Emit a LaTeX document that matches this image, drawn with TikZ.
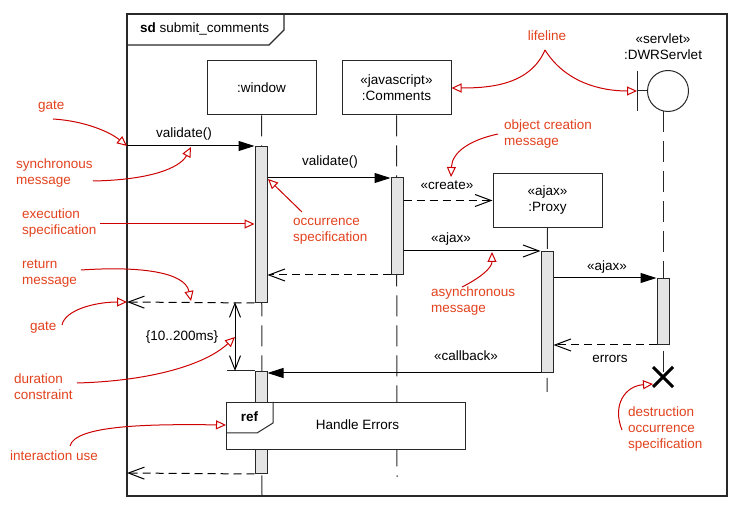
\documentclass[tikz,border=0pt]{standalone}
\usepackage{fontspec}
\setmainfont{Liberation Sans}
\usetikzlibrary{arrows.meta,calc}
\definecolor{ink}{RGB}{40,40,40}
\definecolor{annline}{RGB}{204,0,0}
\definecolor{anntext}{RGB}{226,66,30}
\definecolor{actfill}{RGB}{228,228,228}
\begin{document}
\begin{tikzpicture}[x=1pt,y=-1pt,
  font=\fontsize{13.5}{16}\selectfont,
  obj/.style={draw=ink, line width=1pt, fill=white, minimum width=109, minimum height=54, align=center, inner sep=0},
  act/.style={draw=ink, line width=1pt, fill=actfill, minimum width=12, inner sep=0, anchor=north},
  life/.style={draw=ink, line width=1pt, dash pattern=on 21pt off 9pt},
  sync/.style={draw=black, line width=1pt, -{Triangle[length=16pt,width=10pt]}},
  async/.style={draw=black, line width=1pt, -{Straight Barb[length=16pt,width=12pt,line width=1pt]}},
  ret/.style={draw=black, line width=1pt, dash pattern=on 8pt off 5pt, -{Straight Barb[length=16pt,width=12pt,line width=1pt]}},
  lbl/.style={inner sep=0, text=black},
  note/.style={inner sep=0, text=anntext, align=left, anchor=west},
  ann/.style={draw=annline, line width=1pt, -{Triangle[open,length=10pt,width=9pt,line width=1pt]}}
]
\useasboundingbox (0,0) rectangle (740,510);

% frame
\draw[ink, line width=1.5pt] (127,14) rectangle (727,496);
\draw[ink, line width=1.2pt] (127,45) -- (269,45) -- (284,30) -- (284,14);
\node[lbl, anchor=west] (title) at (140,29) {\textbf{sd} submit\_comments};

% lifeline heads
\node[obj] (win) at (261.5,88) {:window};
\node[obj] (com) at (396.5,88) {«javascript»\\:Comments};
\node[obj] (prx) at (547.5,200.5) {«ajax»\\:Proxy};
\node[draw=ink, line width=1pt, circle, minimum size=41, inner sep=0] (srv) at (668,91) {};
\coordinate (srvbar) at (637,91);
\draw[ink, line width=1pt] (637,71) -- (637,111);
\draw[ink, line width=1pt] (srvbar) -- (srv.west);
\node[lbl, align=center] (srvname) at (663,47) {«servlet»\\:DWRServlet};
\coordinate (shead) at (663,111);

% lifelines
\coordinate (wend) at (262,496);
\coordinate (cend) at (397,477);
\coordinate (pend) at (547,392);
\coordinate (xpt) at (663,377);
\draw[life] (win.south) -- (wend);
\draw[life] (com.south) -- (cend);
\draw[life] (prx.south) -- (pend);
\draw[life] (shead) -- (xpt);

% activations
\node[act, minimum height=156] (wa1) at (261,146) {};
\node[act, minimum height=97] (ca1) at (397,177) {};
\node[act, minimum height=121] (pa1) at (547,251) {};
\node[act, minimum height=66] (sa1) at (663,278) {};
\node[act, minimum height=102] (wa2) at (261,371) {};

% destruction
\draw[black, line width=3pt] ($(xpt)+(-10,-10)$) -- ($(xpt)+(10,10)$);
\draw[black, line width=3pt] ($(xpt)+(-10,10)$) -- ($(xpt)+(10,-10)$);

% gates
\coordinate (gate1) at (127,146);
\coordinate (gate2) at (127,302);
\coordinate (gate3) at (127,473);

% messages
\draw[sync] (gate1) -- (wa1.north west);
\node[lbl] (m1) at (184,134) {validate()};
\draw[sync] (ca1.north west -| wa1.east) ++(0,1) -- ($(ca1.north west)+(0,1)$);
\node[lbl] (m2) at (330,162) {validate()};
\draw[ret] (ca1.east |- prx.west) -- (prx.west);
\node[lbl] (m3) at (447,185) {«create»};
\draw[async] (ca1.east |- pa1.north) -- (pa1.north west);
\node[lbl] (m4) at (451,239) {«ajax»};
\draw[sync] (pa1.east |- sa1.north) -- (sa1.north west);
\node[lbl] (m5) at (607,267) {«ajax»};
\draw[ret] (sa1.south west) -- (sa1.south west -| pa1.east);
\node[lbl] (m6) at (610,359) {errors};
\draw[ret] (ca1.south west) -- (ca1.south west -| wa1.east);
\draw[ret] (wa1.south west) -- (gate2);
\draw[sync] (pa1.south west) -- (pa1.south west -| wa2.east);
\node[lbl] (m7) at (466,356) {«callback»};
\draw[ret] (wa2.south west) -- (gate3);

% duration constraint
\coordinate (dtop) at (235,302);
\coordinate (dbot) at (235,371);
\draw[ink, line width=1pt] (227,371) -- (wa2.north west);
\draw[black, line width=1pt, {Straight Barb[length=14pt,width=11pt,line width=1pt]}-{Straight Barb[length=14pt,width=11pt,line width=1pt]}] (dtop) -- (dbot);
\node[lbl] (dur) at (182,337) {\{10..200ms\}};

% interaction use
\node[draw=ink, line width=1pt, fill=white, minimum width=239, minimum height=47, anchor=north west, inner sep=0] (ref) at (226,402) {};
\draw[ink, line width=1pt] (273,402) -- (273,423) -- (257,433) -- (226,433);
\node[lbl] (reftag) at (249.5,417) {\textbf{ref}};
\node[lbl] (refname) at (357.5,425) {Handle Errors};

% annotations
\node[note] (n1) at (38,107) {gate};
\node[note] (n2) at (16,173) {synchronous\\message};
\node[note] (n3) at (22,223.5) {execution\\specification};
\node[note] (n4) at (22,274) {return\\message};
\node[note] (n5) at (30,328) {gate};
\node[note] (n6) at (14,386.5) {duration\\constraint};
\node[note] (n7) at (10,456) {interaction use};
\node[note] (n8) at (293,231.5) {occurrence\\specification};
\node[note, anchor=center] (n9) at (547,36) {lifeline};
\node[note] (n10) at (504,134) {object creation\\message};
\node[note] (n11) at (431,301) {asynchronous\\message};
\node[note] (n12) at (628,429.5) {destruction\\occurrence\\specification};

\coordinate (a1) at (53,119);
\coordinate (a2) at (93,181);
\coordinate (a3) at (100,224);
\coordinate (a4) at (81,270);
\coordinate (a5) at (62,325);
\coordinate (a6) at (77,383);
\coordinate (a7) at (70,446);
\coordinate (a8) at (302,212);
\coordinate (a9) at (545,50);
\coordinate (a10) at (498,134);
\coordinate (a11) at (462,287);
\coordinate (a12) at (622,430);

\draw[ann] (a1) .. controls (85,121) and (110,132) .. (gate1);
\draw[ann] (a2) .. controls (150,180) and (180,168) .. (191,147);
\draw[ann] (a3) -- (a3 -| wa1.west);
\draw[ann] (a4) .. controls (140,266) and (185,272) .. (191,301);
\draw[ann] (a5) .. controls (65,310) and (95,302) .. (gate2);
\draw[ann] (a6) .. controls (150,381) and (205,365) .. (dur.east -| dtop);
\draw[ann] (a7) .. controls (75,425) and (150,424) .. (ref.west |- refname);
\draw[ann] (a8) -- (268,179);
\draw[ann] (a9) .. controls (530,85) and (490,88) .. (com.east);
\draw[ann] (a9) .. controls (565,82) and (600,91) .. (srvbar);
\draw[ann] (a10) .. controls (470,140) and (452,152) .. (451,177);
\draw[ann] (a11) .. controls (480,278) and (492,268) .. (492,252);
\draw[ann] (a12) .. controls (612,405) and (625,386) .. (653,384);
\end{tikzpicture}
\end{document}
